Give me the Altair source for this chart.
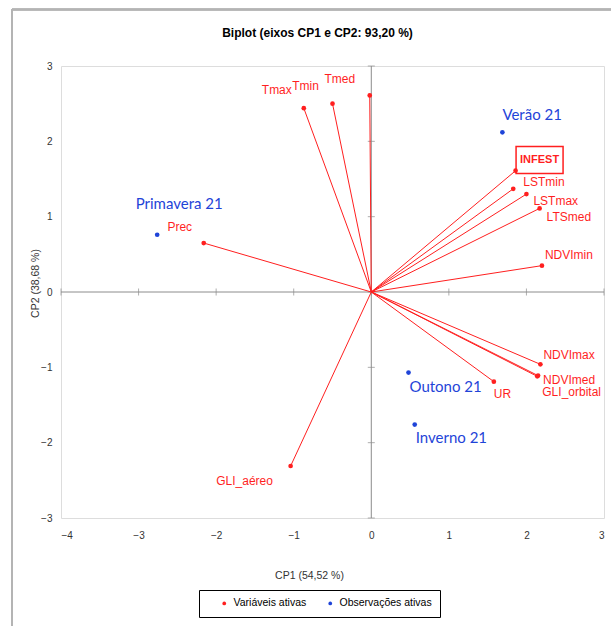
import altair as alt
import pandas as pd

# Active variables: coordinates on the first two principal components
var_names = ["Tmax", "Tmin", "Tmed", "Prec", "UR", "GLI_aéreo", "GLI_orbital",
             "NDVImin", "NDVImax", "NDVImed", "LSTmin", "LSTmax", "LTSmed", "INFEST"]
var_cp1 = [-0.87, -0.50, -0.02, -2.16, 1.58, -1.04, 2.14,
           2.20, 2.18, 2.15, 1.83, 2.00, 2.17, 1.86]
var_cp2 = [2.44, 2.50, 2.61, 0.65, -1.19, -2.31, -1.12,
           0.35, -0.96, -1.11, 1.37, 1.30, 1.11, 1.61]

# Active observations (seasons)
obs_names = ["Primavera 21", "Verão 21", "Outono 21", "Inverno 21"]
obs_cp1 = [-2.76, 1.69, 0.48, 0.56]
obs_cp2 = [0.76, 2.12, -1.07, -1.76]

x_ticks = [-4, -3, -2, -1, 0, 1, 2, 3]
y_ticks = [-3, -2, -1, 0, 1, 2, 3]

legend_labels = ["Variáveis ativas", "Observações ativas"]
RED = "#ff1f1f"
BLUE = "#1f44d8"
SANS = "Liberation Sans, Arial, sans-serif"

W, H = 543, 452

variables = pd.DataFrame({"name": var_names, "cp1": var_cp1, "cp2": var_cp2,
                          "kind": legend_labels[0]})
observations = pd.DataFrame({"name": obs_names, "cp1": obs_cp1, "cp2": obs_cp2,
                             "kind": legend_labels[1]})
points = pd.concat([variables, observations], ignore_index=True)
xt = pd.DataFrame({"v": x_ticks})
yt = pd.DataFrame({"v": y_ticks})

xs = alt.Scale(domain=[-4, 3], nice=False, zero=False)
ys = alt.Scale(domain=[-3, 3], nice=False, zero=False)

X = alt.X("cp1:Q", scale=xs,
          axis=alt.Axis(values=x_ticks, format="d", title="CP1 (54,52 %)", grid=False,
                        domain=False, ticks=False, labelPadding=17,
                        labelBaseline="middle", labelFont=SANS, labelFontSize=10,
                        labelColor="#333333", titleFont=SANS, titleFontSize=10.5,
                        titleFontWeight="normal", titleColor="#333333",
                        titleX=248, titleY=57, titleBaseline="middle"))
Y = alt.Y("cp2:Q", scale=ys,
          axis=alt.Axis(values=y_ticks, format="d", title="CP2 (38,68 %)", grid=False,
                        domain=False, ticks=False, labelPadding=9,
                        labelFont=SANS, labelFontSize=10, labelColor="#333333",
                        titleFont=SANS, titleFontSize=10.5, titleFontWeight="normal",
                        titleColor="#333333", titleX=-26, titleY=217,
                        titleAngle=-90, titleBaseline="middle", titleAlign="center"))

base = alt.Chart(points)

# Zero lines through the origin
zero_v = alt.Chart(yt).mark_rule(color="#8c8c8c", strokeWidth=1).transform_aggregate(
    lo="min(v)", hi="max(v)").transform_calculate(z="0").encode(
    x=alt.X("z:Q", scale=xs), y=alt.Y("lo:Q", scale=ys), y2="hi:Q")
zero_h = alt.Chart(xt).mark_rule(color="#8c8c8c", strokeWidth=1).transform_aggregate(
    lo="min(v)", hi="max(v)").transform_calculate(z="0").encode(
    y=alt.Y("z:Q", scale=ys), x=alt.X("lo:Q", scale=xs), x2="hi:Q")
ticks_h = alt.Chart(xt).mark_tick(color="#8c8c8c", size=7, thickness=1,
                                  orient="vertical").transform_calculate(z="0").encode(
    x=alt.X("v:Q", scale=xs), y=alt.Y("z:Q", scale=ys))
ticks_v = alt.Chart(yt).mark_tick(color="#8c8c8c", size=7, thickness=1,
                                  orient="horizontal").transform_calculate(z="0").encode(
    y=alt.Y("v:Q", scale=ys), x=alt.X("z:Q", scale=xs))

# Outer frame lines
frame_top = alt.Chart(xt).mark_rule(color="#b4b4b4", strokeWidth=1.5).encode(
    x=alt.value(12 - 61), x2=alt.value(611 - 61), y=alt.value(9.5 - 66))
frame_left = alt.Chart(xt).mark_rule(color="#b4b4b4", strokeWidth=1.5).encode(
    x=alt.value(12 - 61), y=alt.value(9.5 - 66), y2=alt.value(626 - 66))

# Vectors from the origin to each variable
vectors = alt.Chart(variables).mark_rule(color=RED, strokeWidth=1).transform_calculate(
    o="0").encode(x=X, y=Y, x2="o:Q", y2="o:Q")

dots = base.mark_circle(size=22, opacity=1).encode(
    x=X, y=Y,
    color=alt.Color("kind:N", scale=alt.Scale(domain=legend_labels, range=[RED, BLUE]),
                    legend=alt.Legend(title=None, orient="none", legendX=138, legendY=524,
                                      direction="horizontal", strokeColor="#000000",
                                      padding=8, symbolSize=14, symbolType="circle",
                                      symbolOffset=12, labelFont=SANS,
                                      labelFontSize=10.5, labelColor="#000000",
                                      columnPadding=6, labelOffset=4)))

# Label placement: (dx, dy, align)
var_label_pos = {
    "Tmax": (-27, -18, "center"), "Tmin": (-27, -18, "center"),
    "Tmed": (-30, -16, "center"), "Prec": (-24, -16, "center"),
    "GLI_aéreo": (-46, 15, "center"), "UR": (0, 12, "left"),
    "NDVImax": (3, -9, "left"), "NDVImed": (5, 4, "left"),
    "GLI_orbital": (5, 16, "left"), "LSTmin": (10, -7, "left"),
    "LSTmax": (7, 7, "left"), "LTSmed": (7, 9, "left"),
    "NDVImin": (3, -11, "left"), "INFEST": (24, -11, "center"),
}
obs_label_pos = {
    "Primavera 21": (22, -31, "center"), "Verão 21": (0, -17, "left"),
    "Outono 21": (1, 14, "left"), "Inverno 21": (1, 13, "left"),
}

labels = []
for name, (dx, dy, al) in var_label_pos.items():
    bold = name == "INFEST"
    labels.append(alt.Chart(variables).transform_filter(alt.datum.name == name).mark_text(
        dx=dx, dy=dy, align=al, baseline="middle", font=SANS,
        fontSize=11 if bold else 12, fontWeight="bold" if bold else "normal",
        color=RED).encode(x=X, y=Y, text="name:N"))
for name, (dx, dy, al) in obs_label_pos.items():
    labels.append(alt.Chart(observations).transform_filter(alt.datum.name == name).mark_text(
        dx=dx, dy=dy, align=al, baseline="middle", font="Lato, Open Sans, sans-serif",
        fontSize=15, color=BLUE).encode(x=X, y=Y, text="name:N"))

# Box around the response variable label
infest_box = alt.Chart(variables).transform_filter(alt.datum.name == "INFEST").mark_point(
    shape="M-1,-0.574L1,-0.574L1,0.574L-1,0.574Z", size=47 * 47, filled=False,
    stroke=RED, strokeWidth=1.5, xOffset=24, yOffset=-10.7, opacity=1).encode(x=X, y=Y)

# The frame line at the top sets the upper edge of the layer bounds, so a negative
# offset is needed to bring the title down towards the plot.
chart = alt.layer(
    frame_top, frame_left, zero_v, zero_h, ticks_h, ticks_v, vectors, dots,
    *labels, infest_box
).properties(
    width=W, height=H,
    title=alt.Title("Biplot (eixos CP1 e CP2: 93,20 %)", font=SANS, fontSize=12,
                    fontWeight="bold", color="#000000", anchor="middle", dx=-15,
                    frame="group", baseline="middle", offset=-36),
    autosize=alt.AutoSizeParams(type="none"),
    padding={"left": 61, "top": 66, "right": 7, "bottom": 108},
).configure_view(stroke="#d4d4d4", strokeWidth=1).configure(background="white")

chart.save("out.html", embed_options={"renderer": "svg", "actions": False})
